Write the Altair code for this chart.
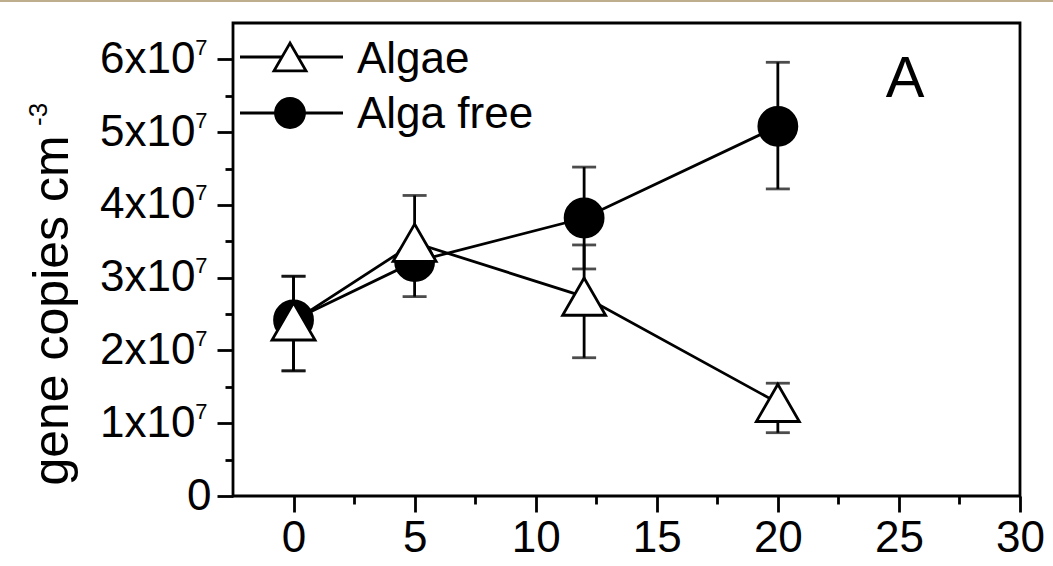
import altair as alt
import pandas as pd

# ---- data ----
days = [0, 5, 12, 20]
algae_mean = [2.40e7, 3.48e7, 2.74e7, 1.28e7]
algae_lo = [1.72e7, 3.10e7, 1.90e7, 0.87e7]
algae_hi = [3.02e7, 4.13e7, 3.45e7, 1.55e7]
free_mean = [2.42e7, 3.22e7, 3.82e7, 5.08e7]
free_lo = [1.72e7, 2.74e7, 3.12e7, 4.22e7]
free_hi = [3.02e7, 3.45e7, 4.52e7, 5.96e7]

x_major = [0, 5, 10, 15, 20, 25, 30]
x_minor = [2.5, 7.5, 12.5, 17.5, 22.5, 27.5]
y_zero = [0]
y_major = [1e7, 2e7, 3e7, 4e7, 5e7, 6e7]
y_minor = [0.5e7, 1.5e7, 2.5e7, 3.5e7, 4.5e7, 5.5e7]
legend_labels = ["Algae", "Alga free"]
panel_label = "A"
y_title = "gene copies cm"
y_title_sup = "-3"

FONT = "Liberation Sans"
FS = 44
SW = 2.8

algae = pd.DataFrame({"day": days, "v": algae_mean, "lo": algae_lo, "hi": algae_hi})
free = pd.DataFrame({"day": days, "v": free_mean, "lo": free_lo, "hi": free_hi})

xs = alt.Scale(domain=[-2.5, 30], nice=False, zero=False)
ys = alt.Scale(domain=[0, 6.5e7], nice=False, zero=False)

common = dict(domain=False, grid=False, labelFlush=False, labelOverlap=False)

x_axis = alt.Axis(values=x_major, tickSize=16, tickWidth=SW, tickColor="black",
                  labelFont=FONT, labelFontSize=FS, labelColor="black", labelPadding=4,
                  title=None, **common)
y_axis = alt.Axis(values=y_major, tickSize=16, tickWidth=SW, tickColor="black",
                  labelFont=FONT, labelFontSize=FS, labelColor="black", labelPadding=22,
                  labelExpr="format(datum.value/1e7, 'd') + 'x10'", orient="left",
                  title=y_title, titleFont=FONT, titleFontSize=50,
                  titleFontWeight="normal", titleColor="black", titleAngle=270,
                  titleAlign="center", titleBaseline="alphabetic", titleX=-166, titleY=287,
                  **common)
y_zero_axis = alt.Axis(values=y_zero, tickSize=16, tickWidth=SW, tickColor="black",
                       labelFont=FONT, labelFontSize=FS, labelColor="black", labelPadding=6,
                       labelExpr="'0'", orient="left", title=None, **common)
y_sup_axis = alt.Axis(values=y_major, ticks=False, labelFont=FONT, labelFontSize=22,
                      labelColor="black", labelPadding=26, labelOffset=-12,
                      labelExpr="'7'", orient="left", title=None, **common)
x_minor_axis = alt.Axis(values=x_minor, tickSize=8, tickWidth=SW, tickColor="black",
                        labels=False, title=None, orient="bottom", **common)
y_minor_axis = alt.Axis(values=y_minor, tickSize=8, tickWidth=SW, tickColor="black",
                        labels=False, title=None, orient="left", **common)

Xn = alt.X("day:Q", scale=xs, axis=None)
Yn = alt.Y("v:Q", scale=ys, axis=None)

main_axes = alt.Chart(algae).mark_point(opacity=0).encode(
    x=alt.X("day:Q", scale=xs, axis=x_axis), y=alt.Y("v:Q", scale=ys, axis=y_axis))
minor_axes = alt.Chart(algae).mark_point(opacity=0).encode(
    x=alt.X("day:Q", scale=xs, axis=x_minor_axis),
    y=alt.Y("v:Q", scale=ys, axis=y_minor_axis))
sup_axis = alt.Chart(algae).mark_point(opacity=0).encode(
    y=alt.Y("v:Q", scale=ys, axis=y_sup_axis))
zero_axis = alt.Chart(algae).mark_point(opacity=0).encode(
    y=alt.Y("v:Q", scale=ys, axis=y_zero_axis))

def series_layers(df, shape, fill, size):
    line = alt.Chart(df).mark_line(color="black", strokeWidth=SW).encode(x=Xn, y=Yn)
    bar = alt.Chart(df).mark_rule(color="black", strokeWidth=SW).encode(
        x=Xn, y=alt.Y("lo:Q", scale=ys, axis=None), y2="hi:Q")
    cap_lo = alt.Chart(df).mark_tick(color="black", thickness=SW, size=24, orient="horizontal").encode(
        x=Xn, y=alt.Y("lo:Q", scale=ys, axis=None))
    cap_hi = alt.Chart(df).mark_tick(color="black", thickness=SW, size=24, orient="horizontal").encode(
        x=Xn, y=alt.Y("hi:Q", scale=ys, axis=None))
    pts = alt.Chart(df).mark_point(shape=shape, filled=True, fill=fill, stroke="black",
                                   strokeWidth=SW, size=size, opacity=1).encode(x=Xn, y=Yn)
    return line, bar, cap_lo, cap_hi, pts

a_line, a_bar, a_lo, a_hi, a_pts = series_layers(algae, "triangle-up", "white", 1850)
f_line, f_bar, f_lo, f_hi, f_pts = series_layers(free, "circle", "black", 1444)

one = pd.DataFrame({"k": [0]})

def ann_rule(x1, x2, y):
    return alt.Chart(one).mark_rule(color="black", strokeWidth=SW).encode(
        x=alt.value(x1), x2=alt.value(x2), y=alt.value(y))

def ann_point(x, y, shape, fill, size):
    return alt.Chart(one).mark_point(shape=shape, filled=True, fill=fill, stroke="black",
                                     strokeWidth=SW, size=size, opacity=1).encode(
        x=alt.value(x), y=alt.value(y))

def ann_text(x, y, txt, size, align="left", angle=0):
    return alt.Chart(one).mark_text(font=FONT, fontSize=size, color="black", align=align,
                                    baseline="alphabetic", angle=angle).encode(
        x=alt.value(x), y=alt.value(y), text=alt.value(txt))

legend = [
    ann_rule(7, 110, 34), ann_point(57, 34, "triangle-up", "white", 1024),
    ann_text(124, 50, legend_labels[0], FS),
    ann_rule(7, 110, 90), ann_point(57, 90, "circle", "black", 841),
    ann_text(124, 105, legend_labels[1], FS),
    ann_text(672, 74, panel_label, 58, align="center"),
    ann_text(-186, 103, y_title_sup, 26, align="left", angle=270),
]

strip = alt.Chart(one).mark_rect(color="#bfae8e").encode(
    x=alt.value(-233), x2=alt.value(820), y=alt.value(-23), y2=alt.value(-21))

chart = alt.layer(
    main_axes, zero_axis, minor_axes, sup_axis, strip,
    f_line, a_line, f_bar, a_bar, f_lo, f_hi, a_lo, a_hi, f_pts, a_pts,
    *legend,
).resolve_axis(x="independent", y="independent").properties(
    width=787, height=473,
    autosize=alt.AutoSizeParams(type="none"),
    padding={"left": 233, "top": 23, "right": 33, "bottom": 70},
    background="white",
).configure_view(stroke="black", strokeWidth=SW)

chart.save("out.html", embed_options={"renderer": "svg", "actions": False})
